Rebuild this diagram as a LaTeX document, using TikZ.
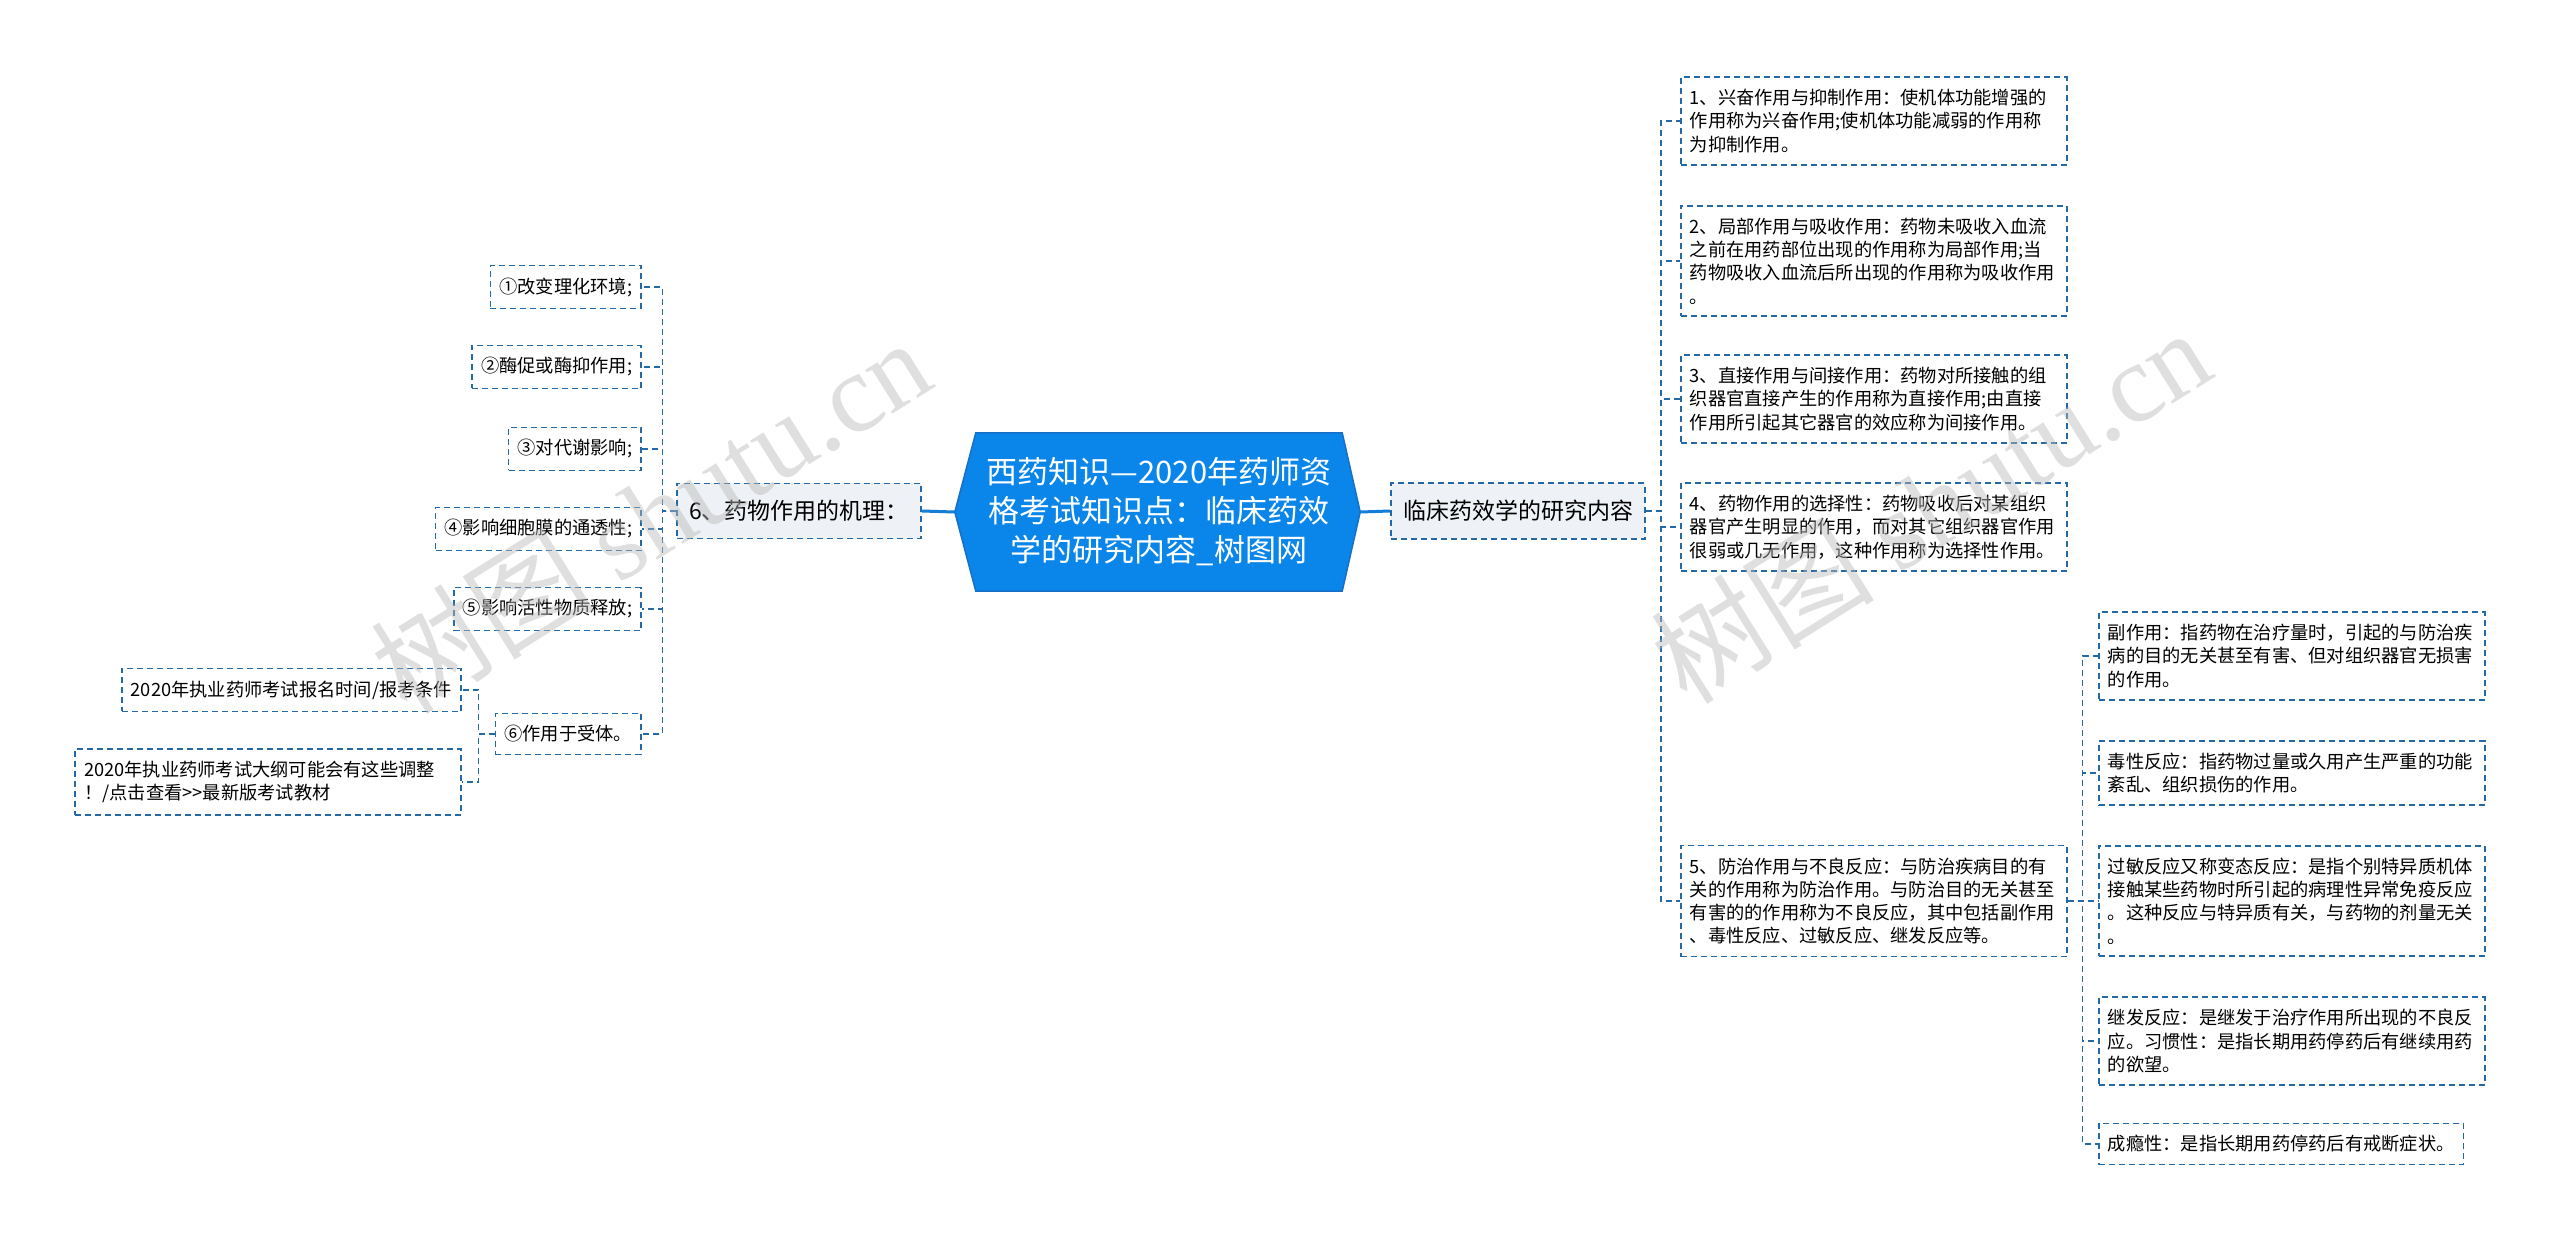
\documentclass[tikz,border=0pt]{standalone}
\usepackage{fontspec}
\setmainfont{Noto Sans CJK SC}
\newfontfamily\wmserif{Liberation Serif}
\usetikzlibrary{backgrounds}
\definecolor{rootblue}{RGB}{10,133,233}
\definecolor{rootedge}{RGB}{22,112,200}
\definecolor{mainfill}{RGB}{238,241,245}
\definecolor{dashblue}{RGB}{35,105,165}
\definecolor{trunkblue}{RGB}{20,125,215}
\definecolor{wmgray}{RGB}{185,185,185}

\begin{document}
\begin{tikzpicture}[x=1pt,y=-1pt,
  leaf/.style={draw=dashblue,line width=1.6pt,dash pattern=on 6pt off 4pt,fill=white,align=left,inner xsep=9pt,inner ysep=12pt,font=\fontsize{18.25}{23.3}\selectfont},
  wideleaf/.style={leaf,text width=368pt},
  mainbox/.style={leaf,fill=mainfill,inner xsep=12pt,inner ysep=17pt,font=\fontsize{23}{28}\selectfont},
  rootbox/.style={minimum width=366pt,minimum height=158pt,inner sep=0pt,align=center,text=white,font=\fontsize{31}{39}\selectfont},
  link/.style={dashblue,line width=1.6pt,dash pattern=on 6pt off 4pt},
  trunk/.style={trunkblue,line width=3pt},
  wmark/.style={text=wmgray,opacity=0.45,rotate=32,font=\fontsize{112}{112}\selectfont}]
\useasboundingbox (0,0) rectangle (2560,1245);

\node[rootbox] (root) at (1159,512) {西药知识—2020年药师资\\格考试知识点：临床药效\\学的研究内容\_树图网};
\begin{scope}[on background layer]
\fill[white] (0,0) rectangle (2560,1245);
\filldraw[fill=rootblue,draw=rootedge,line width=1.5pt] (root.north west) -- (root.north east) -- ([xshift=18pt]root.east) -- (root.south east) -- (root.south west) -- ([xshift=-21pt]root.west) -- cycle;
\end{scope}
\coordinate (rtip) at ([xshift=18pt]root.east);
\coordinate (ltip) at ([xshift=-21pt]root.west);

\node[mainbox] (rmain) at (1518,511) {临床药效学的研究内容};
\node[mainbox] (lmain) at (799,511) {6、药物作用的机理：};
\draw[trunk] (rtip) -- (rmain.west);
\draw[trunk] (ltip) -- (lmain.east);

\node[wideleaf,anchor=west] (r1) at (1680,121) {1、兴奋作用与抑制作用：使机体功能增强的\\作用称为兴奋作用;使机体功能减弱的作用称\\为抑制作用。};
\node[wideleaf,anchor=west] (r2) at (1680,261) {2、局部作用与吸收作用：药物未吸收入血流\\之前在用药部位出现的作用称为局部作用;当\\药物吸收入血流后所出现的作用称为吸收作用\\。};
\node[wideleaf,anchor=west] (r3) at (1680,399) {3、直接作用与间接作用：药物对所接触的组\\织器官直接产生的作用称为直接作用;由直接\\作用所引起其它器官的效应称为间接作用。};
\node[wideleaf,anchor=west] (r4) at (1680,527) {4、药物作用的选择性：药物吸收后对某组织\\器官产生明显的作用，而对其它组织器官作用\\很弱或几无作用，这种作用称为选择性作用。};
\node[wideleaf,anchor=west] (r5) at (1680,901) {5、防治作用与不良反应：与防治疾病目的有\\关的作用称为防治作用。与防治目的无关甚至\\有害的的作用称为不良反应，其中包括副作用\\、毒性反应、过敏反应、继发反应等。};
\foreach \n in {r1,r2,r3,r4,r5}
  \draw[link] (rmain.east) -- ++(15,0) |- (\n.west);

\node[wideleaf,anchor=west] (s1) at (2098,656) {副作用：指药物在治疗量时，引起的与防治疾\\病的目的无关甚至有害、但对组织器官无损害\\的作用。};
\node[wideleaf,anchor=west] (s2) at (2098,773) {毒性反应：指药物过量或久用产生严重的功能\\紊乱、组织损伤的作用。};
\node[wideleaf,anchor=west] (s3) at (2098,901) {过敏反应又称变态反应：是指个别特异质机体\\接触某些药物时所引起的病理性异常免疫反应\\。这种反应与特异质有关，与药物的剂量无关\\。};
\node[wideleaf,anchor=west] (s4) at (2098,1041) {继发反应：是继发于治疗作用所出现的不良反\\应。习惯性：是指长期用药停药后有继续用药\\的欲望。};
\node[leaf,anchor=west] (s5) at (2098,1144) {成瘾性：是指长期用药停药后有戒断症状。};
\foreach \n in {s1,s2,s3,s4,s5}
  \draw[link] (r5.east) -- ++(15,0) |- (\n.west);

\node[leaf,anchor=east] (l1) at (642,287) {①改变理化环境;};
\node[leaf,anchor=east] (l2) at (642,367) {②酶促或酶抑作用;};
\node[leaf,anchor=east] (l3) at (642,449) {③对代谢影响;};
\node[leaf,anchor=east] (l4) at (642,529) {④影响细胞膜的通透性;};
\node[leaf,anchor=east] (l5) at (642,609) {⑤影响活性物质释放;};
\node[leaf,anchor=east] (l6) at (642,734) {⑥作用于受体。};
\foreach \n in {l1,l2,l3,l4,l5,l6}
  \draw[link] (lmain.west) -- ++(-14,0) |- (\n.east);

\node[leaf,anchor=east] (m1) at (462,690) {2020年执业药师考试报名时间/报考条件};
\node[wideleaf,anchor=east] (m2) at (462,782) {2020年执业药师考试大纲可能会有这些调整\\！/点击查看>{}>最新版考试教材};
\foreach \n in {m1,m2}
  \draw[link] (l6.west) -- ++(-16,0) |- (\n.east);

\node[wmark] (wmleft) at (650,515) {树图 {\wmserif shutu.cn}};
\node[wmark] (wmright) at (1930,505) {树图 {\wmserif shutu.cn}};
\end{tikzpicture}
\end{document}
